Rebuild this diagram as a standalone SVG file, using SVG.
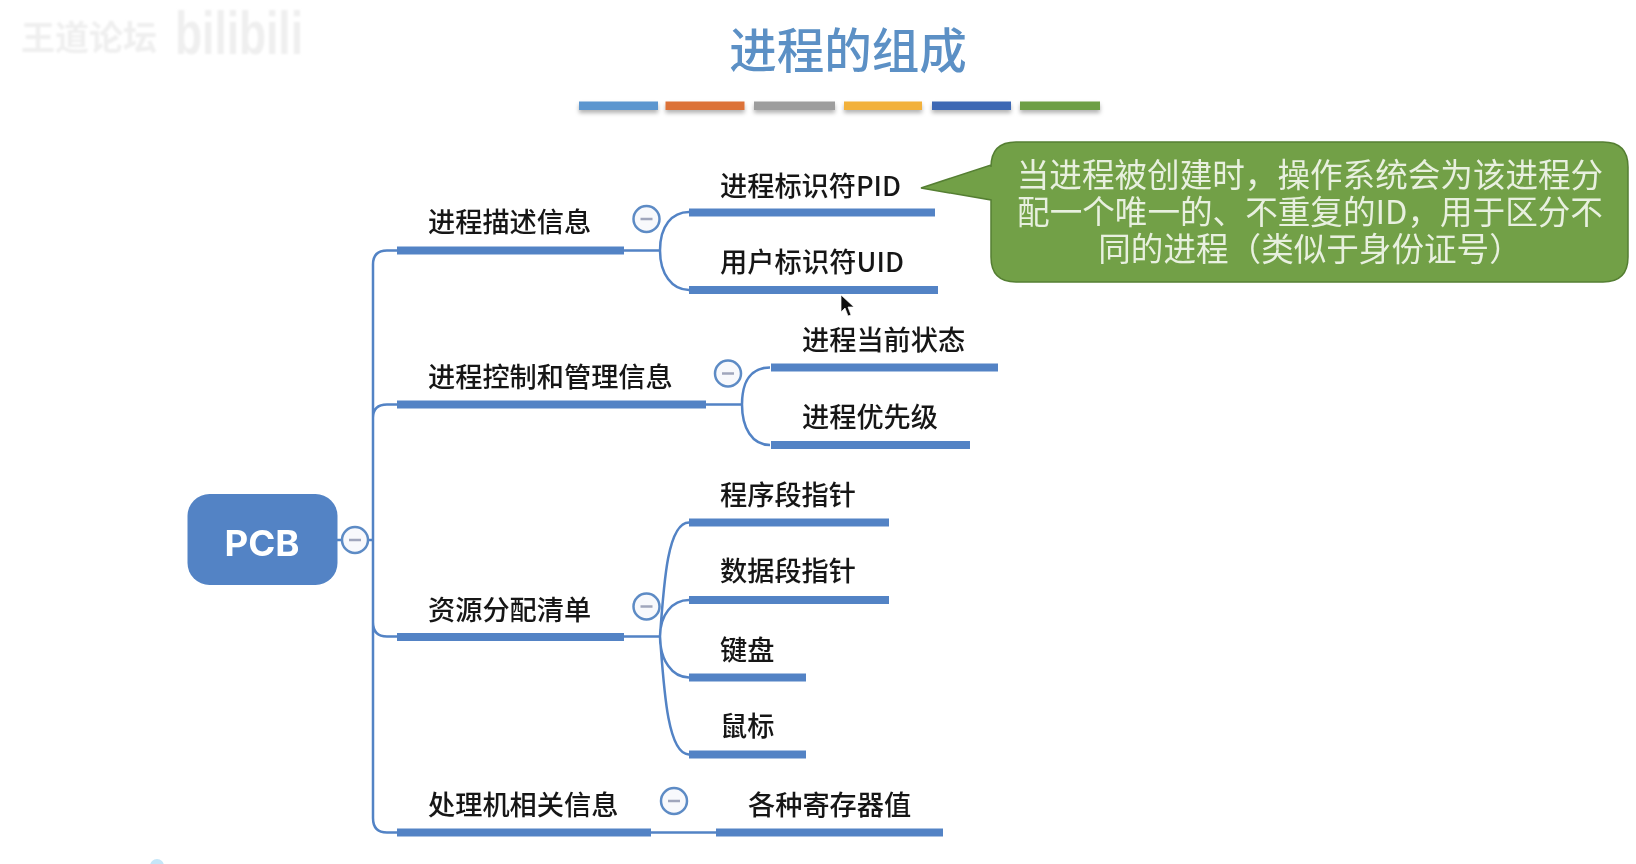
<svg xmlns="http://www.w3.org/2000/svg" width="1636" height="864" viewBox="0 0 1636 864">
<style>
text{font-family:"Noto Sans CJK SC","Liberation Sans",sans-serif}
.t{font-size:27.2px;font-weight:500;fill:#151515;dominant-baseline:central}
.c{font-size:32.600px;fill:#e8f0df;text-anchor:middle;dominant-baseline:central}
.bar{fill:#5283c5}
.lk{fill:none;stroke:#5283c5;stroke-width:2.5}
.tg{fill:#f8f9fc;stroke:#5d8bc5;stroke-width:2.5}
.mn{stroke:#a0a6bc;stroke-width:2.5}
</style>
<defs>
<filter id="soft" x="-5%" y="-5%" width="110%" height="110%"><feGaussianBlur stdDeviation="0.55"/></filter>
<filter id="wm" x="-10%" y="-10%" width="120%" height="120%"><feGaussianBlur stdDeviation="0.8"/></filter>
<filter id="sh" x="-10%" y="-60%" width="120%" height="300%"><feDropShadow dx="0" dy="3" stdDeviation="2" flood-color="#000" flood-opacity="0.3"/></filter>
</defs>
<rect width="1636" height="864" fill="#fff"/>
<g filter="url(#wm)" fill="#efefef">
<text x="21" y="50" font-size="34" font-weight="700">王道论坛</text>
<text x="175" y="54" font-size="62" font-weight="700" style="font-family:'Liberation Sans',sans-serif" textLength="128" lengthAdjust="spacingAndGlyphs">bilibili</text>
</g>
<circle cx="157" cy="866" r="7" fill="#c5e6f8"/>
<g filter="url(#soft)">
<text id="title" x="848" y="47.500" font-size="47.500" font-weight="500" fill="#5b90c5" text-anchor="middle" dominant-baseline="central" style="font-family:'Noto Sans CJK SC',sans-serif">进程的组成</text>
<g id="rule" filter="url(#sh)">
<rect x="579" y="101.500" width="79" height="8.500" fill="#5b96cf"/>
<rect x="665.500" y="101.500" width="79" height="8.500" fill="#dc7238"/>
<rect x="754" y="101.500" width="81" height="8.500" fill="#9d9d9d"/>
<rect x="844" y="101.500" width="78" height="8.500" fill="#f2b13b"/>
<rect x="932" y="101.500" width="79" height="8.500" fill="#3d68b4"/>
<rect x="1020" y="101.500" width="80" height="8.500" fill="#6d9f45"/>
</g>
<g id="connectors">
<path class="lk" d="M337,540H373M397,250.500H387Q373,250.500 373,264.500V818Q373,832.500 387,832.500H397M397,404.500H387Q373,404.500 373,418M397,636.500H387Q373,636.500 373,622"/>
<path class="lk" d="M624,250.500H660M660,250.500C660,226 672,212 689,212M660,250.500C660,274 672,290 689,290"/>
<path class="lk" d="M706,404.500H742M742,404.500C742,380 752,367.500 770,367.500M742,404.500C742,428 752,445 770,445"/>
<path class="lk" d="M624,636.500H660M660,636.500C664,580 668,522.500 689,522.500M660,636.500C660,615 672,600 689,600M660,636.500C660,660 672,677.500 689,677.500M660,636.500C664,692 668,754.500 689,754.500"/>
<path class="lk" d="M651,832.500H716"/>
</g>
<g id="pcb"><rect x="187.500" y="494" width="150" height="91" rx="22" fill="#5283c5"/><text x="262" y="543" font-size="35" font-weight="700" fill="#fff" text-anchor="middle" dominant-baseline="central" style="font-family:Inter,'Liberation Sans',sans-serif" textLength="75" lengthAdjust="spacingAndGlyphs">PCB</text></g>
<g id="pcb-toggle"><circle class="tg" cx="355" cy="540" r="13"/><path class="mn" d="M349,540H361"/></g>
<g id="n1"><rect class="bar" x="397" y="246.500" width="227" height="8"/><text class="t" x="428" y="219.500">进程描述信息</text></g>
<g id="n1-toggle"><circle class="tg" cx="646.500" cy="219" r="13"/><path class="mn" d="M640.500,219H652.500"/></g>
<g id="n2"><rect class="bar" x="397" y="400.500" width="309" height="8"/><text class="t" x="428" y="375">进程控制和管理信息</text></g>
<g id="n2-toggle"><circle class="tg" cx="728" cy="373.500" r="13"/><path class="mn" d="M722,373.500H734"/></g>
<g id="n3"><rect class="bar" x="397" y="633" width="227" height="8"/><text class="t" x="428" y="608">资源分配清单</text></g>
<g id="n3-toggle"><circle class="tg" cx="646.500" cy="606.500" r="13"/><path class="mn" d="M640.500,606.500H652.500"/></g>
<g id="n4"><rect class="bar" x="397" y="828.500" width="254" height="8"/><text class="t" x="428" y="803">处理机相关信息</text></g>
<g id="n4-toggle"><circle class="tg" cx="674" cy="801" r="13"/><path class="mn" d="M668,801H680"/></g>
<g id="pid"><rect class="bar" x="689" y="208.500" width="246" height="8"/><text class="t" x="720" y="183.500" textLength="181">进程标识符PID</text></g>
<g id="uid"><rect class="bar" x="689" y="286" width="249" height="8"/><text class="t" x="720" y="259.500" textLength="184">用户标识符UID</text></g>
<g id="state"><rect class="bar" x="771" y="363.500" width="227" height="8"/><text class="t" x="802" y="337.500">进程当前状态</text></g>
<g id="prio"><rect class="bar" x="771" y="441" width="199" height="8"/><text class="t" x="802" y="414.500">进程优先级</text></g>
<g id="code"><rect class="bar" x="689" y="518.500" width="200" height="8"/><text class="t" x="720" y="493">程序段指针</text></g>
<g id="data"><rect class="bar" x="689" y="596" width="200" height="8"/><text class="t" x="720" y="569">数据段指针</text></g>
<g id="kbd"><rect class="bar" x="689" y="673.500" width="117" height="8"/><text class="t" x="720" y="647.500">键盘</text></g>
<g id="mouse"><rect class="bar" x="689" y="750.500" width="117" height="8"/><text class="t" x="720" y="724">鼠标</text></g>
<g id="reg"><rect class="bar" x="716" y="828.500" width="227" height="8"/><text class="t" x="748" y="803">各种寄存器值</text></g>
<g id="callout">
<path d="M991,165V167Q991,142 1016,142H1603Q1628,142 1628,167V257Q1628,282 1603,282H1016Q991,282 991,257V200L921,188Z" fill="#72a047" stroke="#557f33" stroke-width="1.500"/>
<text class="c"><tspan x="1310" y="172">当进程被创建时，操作系统会为该进程分</tspan><tspan x="1310" y="208.500">配一个唯一的、不重复的ID，用于区分不</tspan><tspan x="1310" y="246">同的进程（类似于身份证号）</tspan></text>
</g>
<path id="cursor" d="M841,295V312L845,308L848,316L851,315L848,307L854,307Z" fill="#111" stroke="#fff" stroke-width="0.700"/>
</g>
</svg>
